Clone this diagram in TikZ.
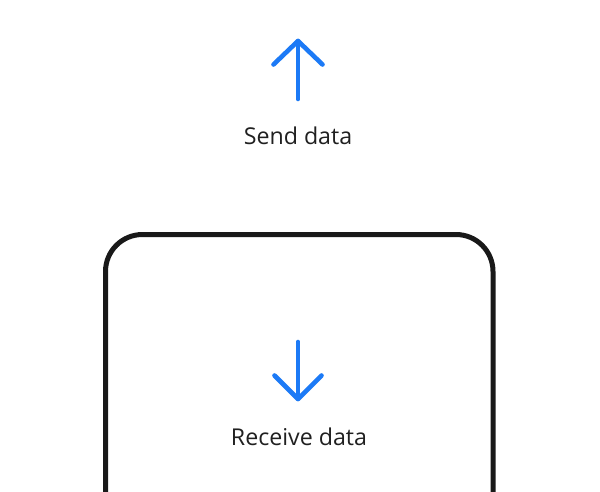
\documentclass[tikz,border=0pt]{standalone}
\usepackage{fontspec}
\setmainfont{Open Sans}
\definecolor{iconblue}{RGB}{28,122,246}
\definecolor{txtgray}{RGB}{32,32,32}
\begin{document}
\begin{tikzpicture}[x=1pt,y=1pt,
  arrowicon/.style={draw=iconblue,line width=4.6pt,line cap=round,line join=round},
  lbl/.style={anchor=base,inner sep=0pt,text=txtgray,font=\fontsize{23.2}{26}\selectfont},
  phone/.style={draw=black!90,line width=5pt,rounded corners=37pt}]
\useasboundingbox[fill=white] (0,0) rectangle (600,-492);
\clip (0,0) rectangle (600,-492);
% phone outline
\coordinate (pbl) at (105.5,-520);
\coordinate (ptl) at (105.5,-234.5);
\coordinate (ptr) at (493,-234.5);
\coordinate (pbr) at (493,-520);
\draw[phone] (pbl) -- (ptl) -- (ptr) -- (pbr);
% send arrow
\coordinate (upTail) at (298,-99);
\coordinate (upTip) at (298,-41);
\draw[arrowicon] (upTail) -- (upTip);
\draw[arrowicon] (upTip) ++(-24.5,-23.5) -- (upTip) -- ++(24.5,-23.5);
\node[lbl] (send) at (298,-144.5) {Send data};
% receive arrow
\coordinate (dnTail) at (298,-342);
\coordinate (dnTip) at (298,-399);
\draw[arrowicon] (dnTail) -- (dnTip);
\draw[arrowicon] (dnTip) ++(-23.5,23.5) -- (dnTip) -- ++(23.5,23.5);
\node[lbl] (recv) at (299,-445.5) {Receive data};
\end{tikzpicture}
\end{document}
